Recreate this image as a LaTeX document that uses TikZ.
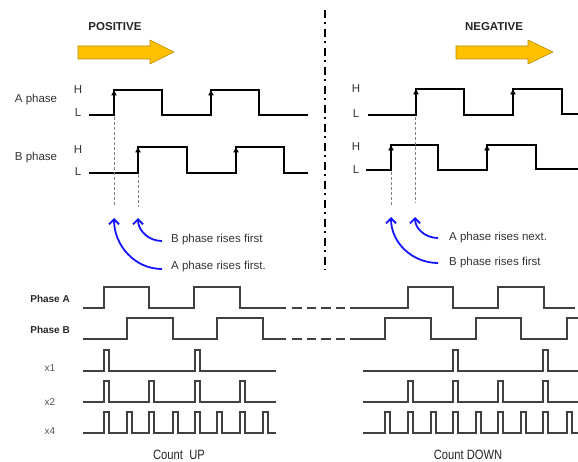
\documentclass[tikz,border=0pt]{standalone}
\usepackage{fontspec}
\setmainfont{Liberation Sans}
\newfontfamily\narrowfont{Liberation Sans}[FakeStretch=0.83]
\usetikzlibrary{arrows.meta}

\definecolor{txtgray}{HTML}{333333}
\definecolor{siggray}{HTML}{404040}
\definecolor{lightlbl}{HTML}{555555}
\definecolor{arrowyellow}{HTML}{FFC000}
\definecolor{arrowedge}{HTML}{B58B00}
\definecolor{noteblue}{RGB}{20,20,255}

\begin{document}
\begin{tikzpicture}[x=1pt,y=-1pt,
  lbl/.style={text=txtgray,font=\fontsize{11.5}{13}\selectfont,inner sep=0pt},
  title/.style={text=black!85,font=\fontsize{11.5}{13}\selectfont\bfseries,inner sep=0pt},
  sidelbl/.style={text=black!85,font=\fontsize{10}{12}\selectfont\bfseries,inner sep=0pt,anchor=east},
  mult/.style={text=lightlbl,font=\fontsize{10}{12}\selectfont,inner sep=0pt},
  caption/.style={text=black!85,font=\narrowfont\fontsize{13.5}{15}\selectfont,inner sep=0pt},
  wave/.style={line width=2.4pt,black,line join=miter},
  risetip/.style={-{Latex[length=6pt,width=6pt]},line width=1pt,black},
  guide/.style={gray,line width=0.7pt,dash pattern=on 3pt off 2pt},
  note/.style={noteblue,line width=1.8pt,-{Straight Barb[length=5pt,width=10pt]}},
  fat/.style={fill=arrowyellow,draw=arrowedge,line width=0.6pt},
  sig/.style={siggray,line width=1.3pt,line join=miter},
  divider/.style={line width=2.5pt,black,dash pattern=on 8pt off 4pt on 2pt off 5pt}
]
\useasboundingbox (0,0) rectangle (578,462);

% ---------------- direction banners ----------------
\node[title] (pos) at (115,27) {POSITIVE};
\node[title] (neg) at (494,27) {NEGATIVE};
\draw[fat] (78,46) -- (150,46) -- (150,40) -- (174,52) -- (150,64) -- (150,59) -- (78,59) -- cycle;
\draw[fat] (456,46) -- (528,46) -- (528,40) -- (553,52) -- (528,64) -- (528,59) -- (456,59) -- cycle;

% ---------------- divider ----------------
\draw[divider] (325,10) -- (325,270);

% ---------------- row labels ----------------
\node[lbl] (lA) at (36,100) {A phase};
\node[lbl] (lB) at (36,158) {B phase};
\node[lbl] (hA1) at (78,90) {H};
\node[lbl] (lA1) at (78,113) {L};
\node[lbl] (hB1) at (78,150) {H};
\node[lbl] (lB1) at (78,172) {L};
\node[lbl] (hA2) at (356,89) {H};
\node[lbl] (lA2) at (356,114) {L};
\node[lbl] (hB2) at (356,147) {H};
\node[lbl] (lB2) at (356,170) {L};

% ---------------- quadrature waveforms, forward ----------------
\draw[wave] (89,115) -- (114,115) -- (114,90) -- (162,90) -- (162,115) -- (211,115)
  -- (211,90) -- (259,90) -- (259,115) -- (308,115);
\draw[wave] (89,173) -- (138,173) -- (138,147) -- (187,147) -- (187,173) -- (236,173)
  -- (236,147) -- (284,147) -- (284,173) -- (308,173);
\draw[risetip] (114,105) -- (114,89.5);
\draw[risetip] (211,105) -- (211,89.5);
\draw[risetip] (138,162) -- (138,146.5);
\draw[risetip] (236,162) -- (236,146.5);

% ---------------- quadrature waveforms, reverse ----------------
\draw[wave] (368,115) -- (416,115) -- (416,89) -- (464,89) -- (464,115) -- (513,115)
  -- (513,89) -- (562,89) -- (562,114) -- (578,114);
\draw[wave] (366,170) -- (391,170) -- (391,145) -- (438,145) -- (438,170) -- (487,170)
  -- (487,145) -- (536,145) -- (536,169) -- (578,169);
\draw[risetip] (416,104) -- (416,88.5);
\draw[risetip] (513,104) -- (513,88.5);
\draw[risetip] (391,160) -- (391,144.5);
\draw[risetip] (487,160) -- (487,144.5);

% ---------------- edge guides ----------------
\draw[guide] (114,117) -- (114,207);
\draw[guide] (138,175) -- (138,207);
\draw[guide] (391,172) -- (391,206);
\draw[guide] (415,117) -- (415,203);

% ---------------- annotations ----------------
\coordinate (tipA1) at (114,218);
\coordinate (tipB1) at (138,218);
\coordinate (tipB2) at (391,217);
\coordinate (tipA2) at (415,217);
\node[lbl,anchor=west] (nB1) at (171,240) {B phase rises first};
\node[lbl,anchor=west] (nA1) at (171,267) {A phase rises first.};
\node[lbl,anchor=west] (nA2) at (449,238) {A phase rises next.};
\node[lbl,anchor=west] (nB2) at (449,263) {B phase rises first};
\draw[note] ([xshift=-9pt,yshift=-1pt]nB1.west) to[out=180,in=-90] (tipB1);
\draw[note] ([xshift=-9pt,yshift=-2pt]nA1.west) to[out=180,in=-90] (tipA1);
\draw[note] ([xshift=-11pt]nA2.west) to[out=180,in=-90] (tipA2);
\draw[note] ([xshift=-11pt]nB2.west) to[out=180,in=-90] (tipB2);

% ---------------- counting diagram ----------------
\node[sidelbl] (pa) at (70,299) {Phase A};
\node[sidelbl] (pb) at (70,330) {Phase B};
\node[mult] (m1) at (50,368) {x1};
\node[mult] (m2) at (50,402) {x2};
\node[mult] (m4) at (50,431) {x4};

% Phase A / Phase B, up-count side
\draw[sig] (83,308) -- (104,308) -- (104,287) -- (149,287) -- (149,308) -- (194,308)
  -- (194,287) -- (240,287) -- (240,308) -- (286,308);
\draw[sig] (83,339) -- (127,339) -- (127,318) -- (173,318) -- (173,339) -- (217,339)
  -- (217,318) -- (263,318) -- (263,339) -- (286,339);
% broken time axis
\foreach \d in {292,306.5,321,335.5}{
  \draw[sig] (\d,308) -- (\d+9.5,308);
  \draw[sig] (\d,339) -- (\d+9.5,339);
}
% Phase A / Phase B, down-count side
\draw[sig] (350,308) -- (408,308) -- (408,287) -- (453,287) -- (453,308) -- (498,308)
  -- (498,287) -- (544,287) -- (544,308) -- (575,308);
\draw[sig] (350,339) -- (385,339) -- (385,318) -- (431,318) -- (431,339) -- (476,339)
  -- (476,318) -- (521,318) -- (521,339) -- (567,339) -- (567,318) -- (578,318);

% count pulses, up
\draw[sig] (83,371) foreach \p in {104,195}{ -- (\p,371) -- (\p,350) -- (\p+5,350) -- (\p+5,371) } -- (276,371);
\draw[sig] (83,402) foreach \p in {104,149,195,240}{ -- (\p,402) -- (\p,381) -- (\p+5,381) -- (\p+5,402) } -- (276,402);
\draw[sig] (83,433) foreach \p in {104,127,149,173,195,217,240,263}{ -- (\p,433) -- (\p,412) -- (\p+5,412) -- (\p+5,433) } -- (276,433);

% count pulses, down
\draw[sig] (363,371) foreach \p in {453,543}{ -- (\p,371) -- (\p,350) -- (\p+5,350) -- (\p+5,371) } -- (578,371);
\draw[sig] (363,402) foreach \p in {408,453,498,543}{ -- (\p,402) -- (\p,381) -- (\p+5,381) -- (\p+5,402) } -- (578,402);
\draw[sig] (363,433) foreach \p in {385,408,431,453,476,498,521,543,567}{ -- (\p,433) -- (\p,412) -- (\p+5,412) -- (\p+5,433) } -- (578,433);

\node[caption] (cu) at (179,455) {Count\ \ UP};
\node[caption] (cd) at (468,455) {Count DOWN};
\end{tikzpicture}
\end{document}
